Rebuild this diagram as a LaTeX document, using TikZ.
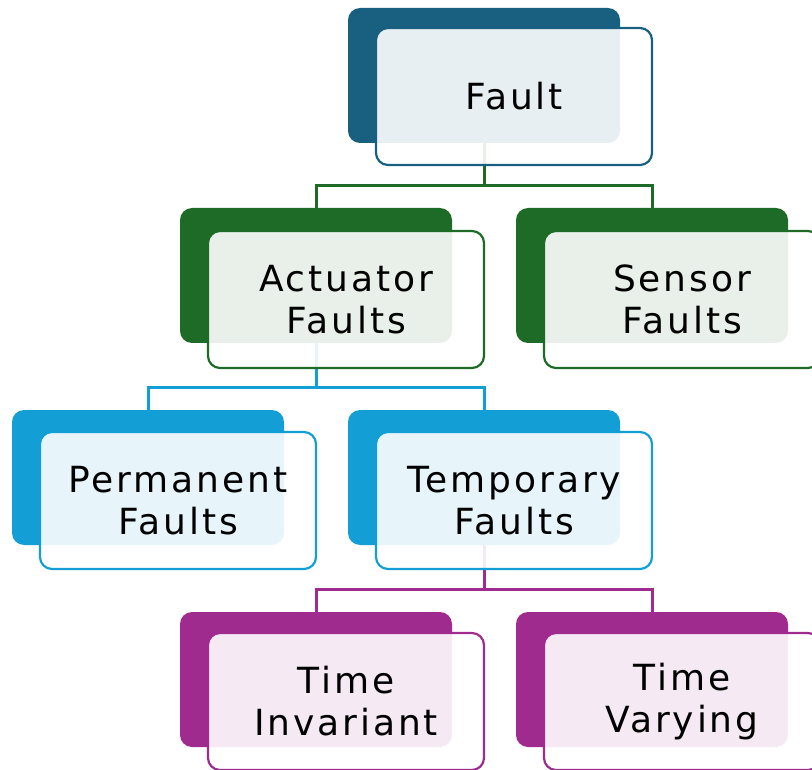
\documentclass[tikz,border=0pt]{standalone}
\usepackage{fontspec}
\setmainfont{DejaVu Sans}[LetterSpace=8]
\usetikzlibrary{calc}
\definecolor{lvA}{HTML}{185F80}
\definecolor{lvB}{HTML}{1E6B28}
\definecolor{lvC}{HTML}{139FD6}
\definecolor{lvD}{HTML}{A02B8F}
\tikzset{
  backbox/.style={draw=none, fill=#1, rounded corners=12pt,
    minimum width=272pt, minimum height=135pt, anchor=north west,
    inner sep=0pt, outer sep=0pt},
  frontbox/.style={draw=#1, line width=2.2pt, fill=white, fill opacity=0.9,
    text opacity=1, rounded corners=12pt, minimum width=276pt,
    minimum height=137pt, anchor=north west, align=center,
    inner sep=0pt, outer sep=0pt, font=\fontsize{36}{42}\selectfont},
  conn/.style={draw=#1, line width=3pt},
}
\begin{document}
\begin{tikzpicture}[x=1pt,y=-1pt]
\useasboundingbox (0,0) rectangle (812,770);
% dark backing tiles
\node[backbox=lvA] (faultB) at (348,8) {};
\node[backbox=lvB] (actB) at (180,208) {};
\node[backbox=lvB] (senB) at (516,208) {};
\node[backbox=lvC] (permB) at (12,410) {};
\node[backbox=lvC] (tempB) at (348,410) {};
\node[backbox=lvD] (tinvB) at (180,612) {};
\node[backbox=lvD] (tvarB) at (516,612) {};
% connectors (drawn under the text cards)
\coordinate (busA) at ($(faultB.south)+(0,43)$);
\coordinate (busB) at ($(actB.south)+(0,44)$);
\coordinate (busC) at ($(tempB.south)+(0,44)$);
\draw[conn=lvB] (faultB.south) -- (busA) -| (actB.north);
\draw[conn=lvB] (busA) -| (senB.north);
\draw[conn=lvC] (actB.south) -- (busB) -| (permB.north);
\draw[conn=lvC] (busB) -| (tempB.north);
\draw[conn=lvD] (tempB.south) -- (busC) -| (tinvB.north);
\draw[conn=lvD] (busC) -| (tvarB.north);
% text cards
\node[frontbox=lvA] (fault) at (376,28) {Fault};
\node[frontbox=lvB] (act) at (208,231) {Actuator\\Faults};
\node[frontbox=lvB] (sen) at (544,231) {Sensor\\Faults};
\node[frontbox=lvC] (perm) at (40,432) {Permanent\\Faults};
\node[frontbox=lvC] (temp) at (376,432) {Temporary\\Faults};
\node[frontbox=lvD] (tinv) at (208,633) {Time\\Invariant};
\node[frontbox=lvD] (tvar) at (544,633) {Time\\Varying};
\end{tikzpicture}
\end{document}
